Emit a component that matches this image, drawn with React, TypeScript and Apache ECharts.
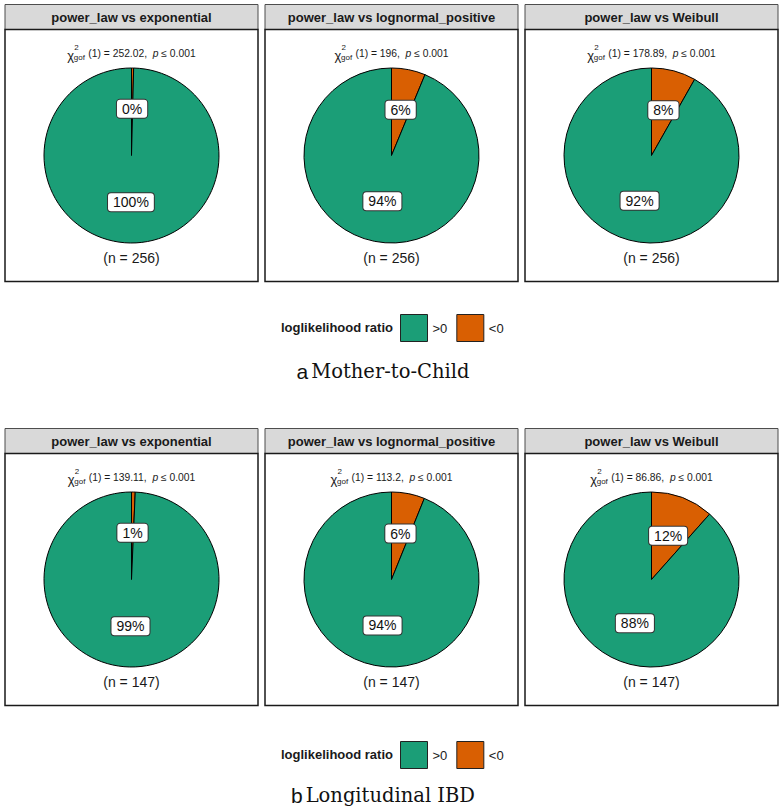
import React, { useEffect, useRef } from "react";
import * as echarts from "echarts";

// ---- data ----
const panelCaptions = ["Mother-to-Child", "Longitudinal IBD"];
const panelLetters = ["a", "b"];
const comparisons = [
  "power_law vs exponential",
  "power_law vs lognormal_positive",
  "power_law vs Weibull",
];
const positiveA = [255, 240, 235];
const negativeA = [1, 16, 21];
const positiveB = [146, 138, 130];
const negativeB = [1, 9, 17];
const chiA = ["252.02", "196", "178.89"];
const chiB = ["139.11", "113.2", "86.86"];
const legendTitle = "loglikelihood ratio";
const legendItems = [">0", "<0"];

const GREEN = "#1b9e77";
const ORANGE = "#d95f02";
const SANS = '"Liberation Sans", Arial, Helvetica, sans-serif';
const SERIF = '"DejaVu Serif", "Liberation Serif", serif';

function measure(text: string, font: string): number {
  const c = document.createElement("canvas").getContext("2d");
  if (!c) return text.length * 6;
  c.font = font;
  return c.measureText(text).width;
}

export default function App() {
  const ref = useRef<HTMLDivElement>(null);
  useEffect(() => {
    document.body.style.margin = "0";
    if (!ref.current) return;
    const chart = echarts.init(ref.current, null, { renderer: "svg" });

    const facetLeft = [5, 265, 525];
    const facetW = 253;
    const panelOffsets = [0, 424];
    const legendTops = [314, 741];
    const positives = [positiveA, positiveB];
    const negatives = [negativeA, negativeB];
    const chis = [chiA, chiB];

    const series: any[] = [];
    const elements: any[] = [];

    const txt = (text: string, x: number, y: number, font: string, fill: string, align = "center", va = "middle") => ({
      type: "text",
      silent: true,
      z: 10,
      style: { text, x, y, font, fill, align, verticalAlign: va, textAlign: align, textVerticalAlign: va },
    });

    for (let p = 0; p < 2; p++) {
      const off = panelOffsets[p];
      for (let f = 0; f < 3; f++) {
        const x0 = facetLeft[f];
        const cx = x0 + facetW / 2;
        const pos = positives[p][f];
        const neg = negatives[p][f];
        const total = pos + neg;
        // strip
        elements.push({
          type: "rect",
          silent: true,
          shape: { x: x0, y: 4.5 + off, width: facetW, height: 25 },
          style: { fill: "#d9d9d9", stroke: "#4d4d4d", lineWidth: 1 },
        });
        elements.push(txt(comparisons[f], cx, 17 + off, `bold 13px ${SANS}`, "#1a1a1a"));
        // panel border
        elements.push({
          type: "rect",
          silent: true,
          shape: { x: x0, y: 29.5 + off, width: facetW, height: 252 },
          style: { fill: "none", stroke: "#1a1a1a", lineWidth: 1.5 },
        });
        // chi-square subtitle
        const f10 = `10.3px ${SANS}`;
        const fi10 = `italic 10.3px ${SANS}`;
        const part1 = `(1) = ${chis[p][f]},  `;
        const part2 = "p";
        const part3 = " \u2264 0.001";
        const w1 = measure(part1, f10);
        const w2 = measure(part2, fi10);
        const w3 = measure(part3, f10);
        const chiW = 21;
        const totalW = chiW + w1 + w2 + w3;
        const sx = cx - totalW / 2;
        const ty = 53 + off;
        elements.push(txt("\u03c7", sx, ty + 2, `13px ${SANS}`, "#1a1a1a", "left"));
        elements.push(txt("2", sx + 7, ty - 6, `8px ${SANS}`, "#1a1a1a", "left"));
        elements.push(txt("gof", sx + 6.5, ty + 4.5, `8px ${SANS}`, "#1a1a1a", "left"));
        elements.push(txt(part1, sx + chiW, ty, f10, "#1a1a1a", "left"));
        elements.push(txt(part2, sx + chiW + w1, ty, fi10, "#1a1a1a", "left"));
        elements.push(txt(part3, sx + chiW + w1 + w2, ty, f10, "#1a1a1a", "left"));
        // n caption
        elements.push(txt(`(n = ${total})`, cx, 258 + off, `14px ${SANS}`, "#1a1a1a"));

        series.push({
          type: "pie",
          center: [cx, 155.5 + off],
          radius: [0, 87.5],
          startAngle: 90,
          clockwise: true,
          silent: true,
          animation: false,
          emphasis: { disabled: true },
          itemStyle: { borderColor: "#000", borderWidth: 1 },
          labelLine: { show: false },
          label: {
            show: true,
            position: "inside",
            formatter: (prm: any) => `${Math.round((prm.value / total) * 100)}%`,
            fontFamily: SANS,
            fontSize: 14,
            color: "#111",
            backgroundColor: "#fff",
            borderColor: "#333",
            borderWidth: 1,
            borderRadius: 3,
            padding: [2, 5],
          },
          data: [
            { name: legendItems[1], value: neg, itemStyle: { color: ORANGE } },
            { name: legendItems[0], value: pos, itemStyle: { color: GREEN } },
          ],
        });
      }
      // legend title
      elements.push(txt(legendTitle, 281, legendTops[p] + 13.5, `bold 13px ${SANS}`, "#1a1a1a", "left"));
      // caption
      const letterFont = `21px ${SANS}`;
      const serifFont = `19.5px ${SERIF}`;
      const la = measure(panelLetters[p], letterFont) + 3;
      const sw = measure(panelCaptions[p], serifFont);
      const startX = 383 - (la + sw) / 2;
      const capY = (p === 0 ? 371.5 : 795);
      elements.push(txt(panelLetters[p], startX, capY, letterFont, "#111", "left"));
      elements.push(txt(panelCaptions[p], startX + la, capY, serifFont, "#111", "left"));
    }

    const legends = legendTops.map((top) => ({
      left: 400,
      top,
      padding: 0,
      orient: "horizontal",
      icon: "rect",
      itemWidth: 27,
      itemHeight: 27,
      itemGap: 9,
      selectedMode: false,
      data: legendItems,
      itemStyle: { borderColor: "#222", borderWidth: 1 },
      textStyle: { fontFamily: SANS, fontSize: 13, color: "#1a1a1a" },
    }));

    chart.setOption({
      animation: false,
      backgroundColor: "#fff",
      legend: legends,
      series,
      graphic: { elements },
    });
    return () => chart.dispose();
  }, []);
  return <div ref={ref} style={{ width: 784, height: 809 }} />;
}
